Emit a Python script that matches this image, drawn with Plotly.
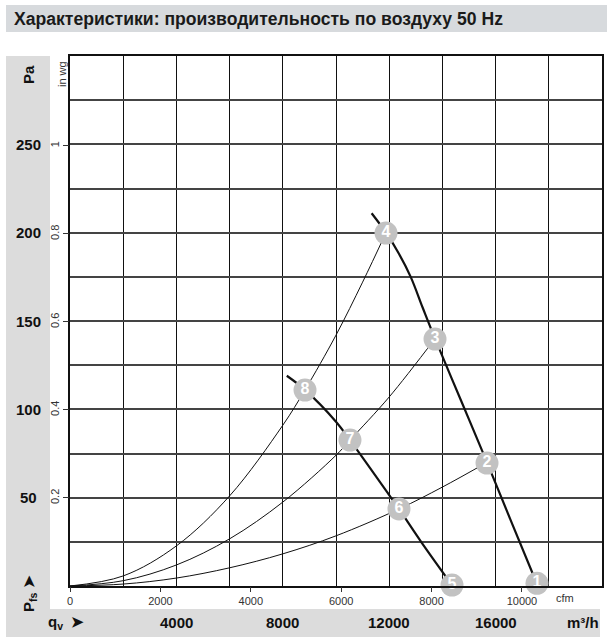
import plotly.graph_objects as go

# ---------------- data ----------------
# fan characteristic curves (m³/h, Pa)
fan_hi_q = [11340, 11880, 12350, 12808, 13260, 13722, 14700, 15677, 16600, 17560]
fan_hi_p = [211, 200, 188.5, 175, 157.5, 140, 105, 70, 36, 1]
fan_lo_q = [8150, 8835, 10000, 10526, 12000, 12368, 13200, 14360]
fan_lo_p = [119, 111, 93, 82.6, 51.5, 43.6, 25, 0.5]

# system curves (m³/h, Pa)
sys_a_q = [0, 2000, 4000, 6000, 8000, 8835, 10000, 11000, 11880]
sys_a_p = [0, 5.7, 22.7, 51, 91, 111, 142, 172, 200]
sys_b_q = [0, 2000, 4000, 6000, 8000, 10000, 10526, 12000, 13722]
sys_b_p = [0, 3, 11.9, 26.7, 47.5, 74, 82.6, 107, 140]
sys_c_q = [0, 2000, 4000, 6000, 8000, 10000, 12368, 14000, 15677]
sys_c_p = [0, 1.1, 4.5, 10.3, 18.2, 28.4, 43.6, 56, 70]

# operating points
pt_labels = ["1", "2", "3", "4", "5", "6", "7", "8"]
pt_q = [17556, 15677, 13722, 11880, 14361, 12368, 10526, 8835]
pt_p = [1.5, 69.6, 139.8, 199.8, 0.5, 43.6, 82.6, 110.9]

# axis ticks
pa_ticks = [50, 100, 150, 200, 250]
inwg_ticks = [0.2, 0.4, 0.6, 0.8, 1.0]
inwg_text = ["0.2", "0.4", "0.6", "0.8", "1"]
cfm_ticks = [0, 2000, 4000, 6000, 8000, 10000]
m3h_ticks = [4000, 8000, 12000, 16000]

title_text = "Характеристики: производительность по воздуху 50 Hz"

Q_MAX = 20000
P_MAX = 300
CFM_FACTOR = 1.69901
PA_PER_INWG = 249.089

# ---------------- figure ----------------
W, H = 607, 644
L, R, T, B = 70, 5, 56, 58
PW = W - L - R
PH = H - T - B


def px(xp):
    return (xp - L) / PW


def py(yp):
    return (H - B - yp) / PH


fig = go.Figure()

curve_style = dict(mode="lines", hoverinfo="skip", showlegend=False, line_shape="spline")
for q, p in [(sys_a_q, sys_a_p), (sys_b_q, sys_b_p), (sys_c_q, sys_c_p)]:
    fig.add_trace(go.Scatter(x=q, y=p, line=dict(color="#111", width=1), **curve_style))
for q, p in [(fan_hi_q, fan_hi_p), (fan_lo_q, fan_lo_p)]:
    fig.add_trace(go.Scatter(x=q, y=p, line=dict(color="#111", width=2.2, smoothing=1.0),
                             **curve_style))

fig.add_trace(go.Scatter(
    x=pt_q, y=pt_p, mode="markers+text", text=pt_labels,
    textposition="middle center",
    marker=dict(size=23, color="#c2c2c2", line=dict(width=0)),
    textfont=dict(family="Liberation Sans, Arial", size=16, color="white", weight="bold"),
    cliponaxis=False, showlegend=False, hoverinfo="skip",
))

# dummy trace for the secondary axes (cfm / in wg)
fig.add_trace(go.Scatter(x=[0], y=[0], xaxis="x2", yaxis="y2", mode="markers",
                         marker=dict(size=1, opacity=0), showlegend=False, hoverinfo="skip"))

fig.update_layout(
    width=W, height=H,
    margin=dict(l=L, r=R, t=T, b=B, autoexpand=False),
    paper_bgcolor="white", plot_bgcolor="white",
    showlegend=False,
    xaxis=dict(range=[0, Q_MAX], dtick=2000, tick0=0, showticklabels=False, automargin=False,
               showgrid=True, gridcolor="#111", gridwidth=1.3, zeroline=False,
               showline=True, linecolor="#111", linewidth=1.5, mirror=True, ticks=""),
    yaxis=dict(range=[0, P_MAX], dtick=25, tick0=0, showticklabels=False, automargin=False,
               showgrid=True, gridcolor="#444", gridwidth=1.5, zeroline=False,
               showline=True, linecolor="#111", linewidth=1.5, mirror=True, ticks=""),
    xaxis2=dict(range=[0, Q_MAX / CFM_FACTOR], overlaying="x", anchor="y", side="bottom",
                tickvals=cfm_ticks, ticktext=[str(v) for v in cfm_ticks], automargin=False,
                ticks="outside", ticklen=5, tickcolor="#333",
                tickfont=dict(family="Liberation Sans, Arial", size=11, color="#333"),
                showgrid=False, zeroline=False, showline=False),
    yaxis2=dict(range=[0, P_MAX / PA_PER_INWG], overlaying="y", anchor="x", side="left",
                tickvals=inwg_ticks, ticktext=inwg_text, tickangle=-90, automargin=False,
                ticks="outside", ticklen=6, tickcolor="#333",
                tickfont=dict(family="Liberation Sans, Arial", size=11, color="#333"),
                showgrid=False, zeroline=False, showline=False),
)

band = "#dcdcdc"
shapes = [
    # title band
    dict(type="rect", xref="paper", yref="paper", x0=px(6), x1=px(607), y0=py(32), y1=py(5),
         fillcolor="#d7dadd", line=dict(width=0), layer="below"),
    # left band
    dict(type="rect", xref="paper", yref="paper", x0=px(6), x1=px(50), y0=py(637), y1=py(56),
         fillcolor=band, line=dict(width=0), layer="below"),
    # bottom band
    dict(type="rect", xref="paper", yref="paper", x0=px(6), x1=px(600), y0=py(637), y1=py(609),
         fillcolor=band, line=dict(width=0), layer="below"),
]
fig.update_layout(shapes=shapes)

bold = dict(family="Liberation Sans, Arial", size=15, color="#111", weight="bold")
ann = []
ann.append(dict(text=title_text, xref="paper", yref="paper", x=px(12), y=py(18.5),
                xanchor="left", yanchor="middle", showarrow=False,
                font=dict(family="Liberation Sans Narrow, Liberation Sans, Arial", size=17.6,
                          color="#1a1a1a", weight="bold")))
for v in pa_ticks:
    ann.append(dict(text=str(v), xref="paper", yref="y", x=px(28), y=v,
                    xanchor="center", yanchor="middle", showarrow=False, font=bold))
ann.append(dict(text="Pa", xref="paper", yref="paper", x=px(28), y=py(75), textangle=-90,
                xanchor="center", yanchor="middle", showarrow=False, font=bold))
ann.append(dict(text="in wg", xref="paper", yref="paper", x=px(62), y=py(74), textangle=-90,
                xanchor="center", yanchor="middle", showarrow=False,
                font=dict(family="Liberation Sans, Arial", size=11, color="#333")))
ann.append(dict(text="P<sub>fs</sub> ➤", xref="paper", yref="paper", x=px(29), y=py(594), textangle=-90,
                xanchor="center", yanchor="middle", showarrow=False, font=bold))
ann.append(dict(text="q<sub>v</sub>  ➤", xref="paper", yref="paper", x=px(46), y=py(622),
                xanchor="left", yanchor="middle", showarrow=False, font=bold))
for v in m3h_ticks:
    ann.append(dict(text=str(v), xref="x", yref="paper", x=v, y=py(622),
                    xanchor="center", yanchor="middle", showarrow=False, font=bold))
ann.append(dict(text="m³/h", xref="paper", yref="paper", x=px(583), y=py(622),
                xanchor="center", yanchor="middle", showarrow=False, font=bold))
ann.append(dict(text="cfm", xref="paper", yref="paper", x=px(565), y=py(598),
                xanchor="center", yanchor="middle", showarrow=False,
                font=dict(family="Liberation Sans, Arial", size=11, color="#333")))
fig.update_layout(annotations=ann)

fig.write_html("out.html", config={"displayModeBar": False},
               post_script="document.body.style.margin='0';document.body.style.overflow='hidden';")
